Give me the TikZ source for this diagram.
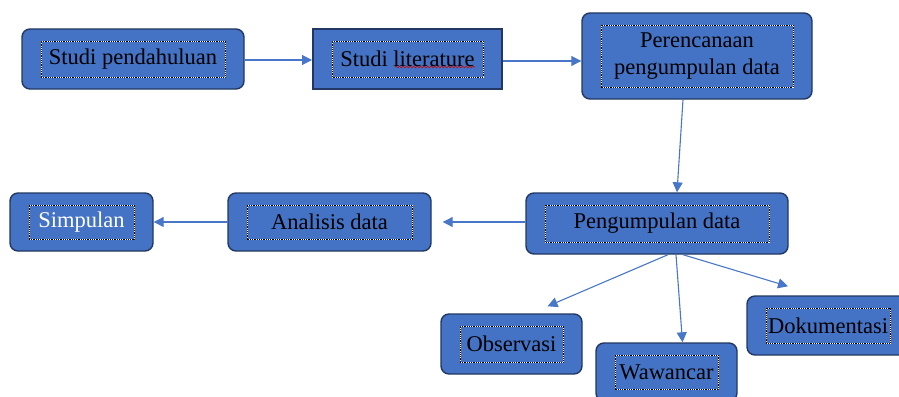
\documentclass[tikz,border=0pt]{standalone}
\usepackage{fontspec}
\setmainfont{Liberation Serif}
\usetikzlibrary{arrows.meta, positioning, calc, decorations.pathmorphing}
\definecolor{boxblue}{RGB}{68, 114, 196}
\definecolor{boxedge}{RGB}{34, 56, 98}
\definecolor{flowblue}{RGB}{72, 118, 200}

\tikzset{
  stage/.style={draw=boxedge, fill=boxblue, line width=1.4pt, rounded corners=8pt,
    font=\fontsize{22.5}{27}\selectfont, align=center, inner sep=0pt,
    path picture={
      \draw[white, line width=0.9pt, sharp corners]
        ([shift={(19pt,12pt)}]path picture bounding box.south west) rectangle
        ([shift={(-19pt,-12pt)}]path picture bounding box.north east);
      \draw[black, line width=0.9pt, sharp corners, dash pattern=on 0.9pt off 0.9pt]
        ([shift={(19pt,12pt)}]path picture bounding box.south west) rectangle
        ([shift={(-19pt,-12pt)}]path picture bounding box.north east);
    }},
  flow/.style={flowblue, line width=1.1pt, -{Triangle[length=10pt, width=10pt]}}
}

\begin{document}
\begin{tikzpicture}[x=1pt, y=-1pt]
\clip (0,0) rectangle (899,396);

% Top row
\node[stage, minimum width=222pt, minimum height=60pt] (pendahuluan) at (133,59) {Studi pendahuluan};
\node[stage, sharp corners, line width=2pt, minimum width=189pt, minimum height=60pt] (literature) at (407.5,59) {Studi literature};
\node[stage, minimum width=230pt, minimum height=86pt] (perencanaan) at (697,56) {Perencanaan\\pengumpulan data};

% spell-check mark
\draw[red!80!black, line width=0.6pt, decorate, decoration={snake, amplitude=0.9pt, segment length=3.5pt}]
  (395,67) -- (475,67);

% Middle row
\node[stage, minimum width=262pt, minimum height=61pt] (pengumpulan) at (657,223.5) {Pengumpulan data};
\node[stage, minimum width=203pt, minimum height=58pt] (analisis) at (329.5,222) {Analisis data};
\node[stage, minimum width=143pt, minimum height=58pt, text=white] (simpulan) at (81.5,222) {Simpulan};

% Bottom row
\node[stage, minimum width=141pt, minimum height=60pt] (observasi) at (511.5,344) {Observasi};
\node[stage, minimum width=141pt, minimum height=58pt] (wawancar) at (666.5,372) {Wawancar};
\node[stage, minimum width=162pt, minimum height=59pt] (dokumentasi) at (828,325.5) {Dokumentasi};

% Arrows
\draw[flow] ([yshift=-1pt]pendahuluan.east) -- ([yshift=-1pt]literature.west);
\draw[flow] ([yshift=-2pt]literature.east) -- ([yshift=-2pt]literature.east -| perencanaan.west);
\draw[flow] ([xshift=-14pt]perencanaan.south) -- ([xshift=20pt]pengumpulan.north);
\draw[flow, shorten >=11pt] (analisis.east -| pengumpulan.west) -- (analisis.east);
\draw[flow] (analisis.west) -- (simpulan.east);
\draw[flow] ([xshift=11pt]pengumpulan.south) -- ([xshift=36pt, yshift=7pt]observasi.north);
\draw[flow] ([xshift=19pt]pengumpulan.south) -- ([xshift=16pt]wawancar.north);
\draw[flow] ([xshift=26pt]pengumpulan.south) -- ([xshift=-40pt, yshift=9pt]dokumentasi.north);
\end{tikzpicture}
\end{document}
